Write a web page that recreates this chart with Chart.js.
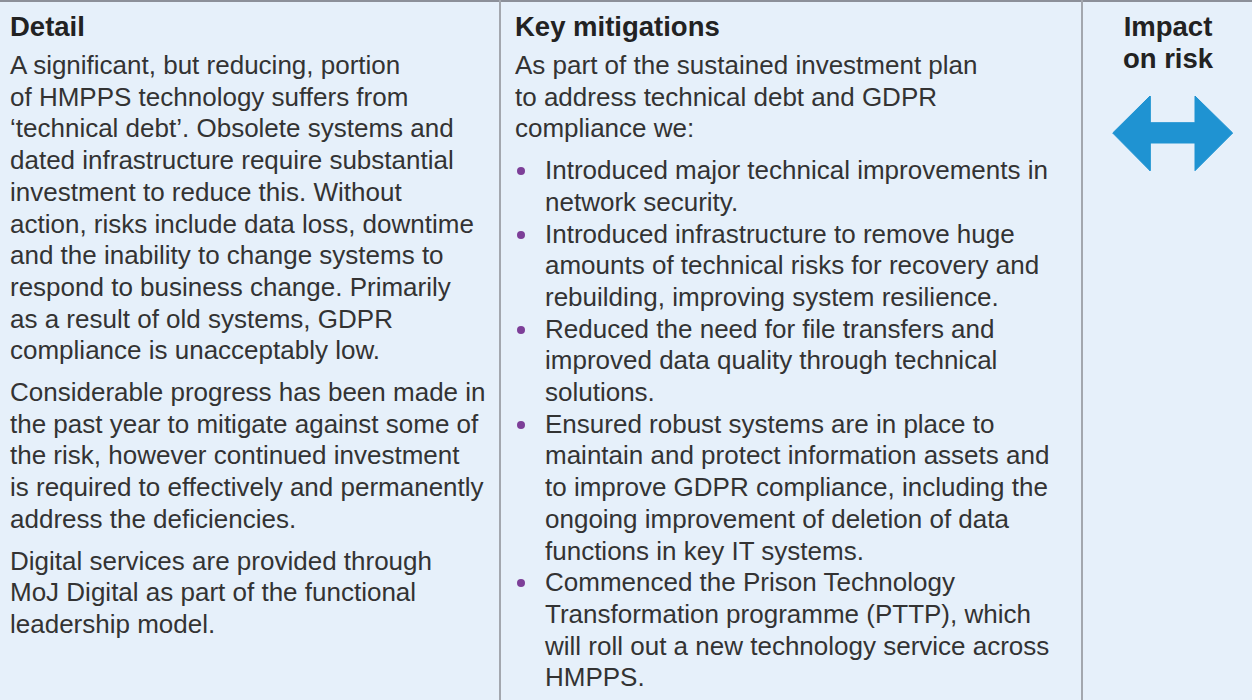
<!DOCTYPE html>
<html>
<head>
<meta charset="utf-8">
<script src="https://cdn.jsdelivr.net/npm/chart.js@4.4.0/dist/chart.umd.min.js"></script>
<style>
  html, body { margin:0; padding:0; }
  body { width:1252px; height:700px; background:#e6f0fa; position:relative; overflow:hidden;
         font-family:"Liberation Sans", Arial, sans-serif; color:#333; }
  .topline { position:absolute; left:0; top:0; width:1252px; height:2px; background:#8c9099; }
  .vline { position:absolute; top:0; width:2px; height:700px; background:#a3a7ae; }
  .col { position:absolute; top:11px; font-size:26px; line-height:31.7px; }
  .col h3 { margin:0 0 7px 0; font-size:27.5px; line-height:32px; font-weight:bold; color:#222; }
  .col p { margin:0 0 10px 0; white-space:nowrap; }
  .col ul { margin:0; padding:0; list-style:none; }
  .col li { position:relative; padding-left:30px; white-space:nowrap; }
  .col li::before { content:""; position:absolute; left:2px; top:12px; width:8px; height:8px;
                    border-radius:50%; background:#7d3f98; }
  #impact { position:absolute; left:1084px; width:168px; top:11px; text-align:center;
            font-size:27.5px; line-height:32px; font-weight:bold; color:#222; }
  #arrowBox { position:absolute; left:1100px; top:90px; width:145px; height:87px; }
</style>
</head>
<body>
<div class="topline"></div>
<div class="vline" style="left:499px"></div>
<div class="vline" style="left:1081px"></div>

<div class="col" style="left:10px">
  <h3>Detail</h3>
  <p>A significant, but reducing, portion<br>of HMPPS technology suffers from<br>‘technical debt’. Obsolete systems and<br>dated infrastructure require substantial<br>investment to reduce this. Without<br>action, risks include data loss, downtime<br>and the inability to change systems to<br>respond to business change. Primarily<br>as a result of old systems, GDPR<br>compliance is unacceptably low.</p>
  <p>Considerable progress has been made in<br>the past year to mitigate against some of<br>the risk, however continued investment<br>is required to effectively and permanently<br>address the deficiencies.</p>
  <p>Digital services are provided through<br>MoJ Digital as part of the functional<br>leadership model.</p>
</div>

<div class="col" style="left:515px">
  <h3>Key mitigations</h3>
  <p>As part of the sustained investment plan<br>to address technical debt and GDPR<br>compliance we:</p>
  <ul>
    <li>Introduced major technical improvements in<br>network security.</li>
    <li>Introduced infrastructure to remove huge<br>amounts of technical risks for recovery and<br>rebuilding, improving system resilience.</li>
    <li>Reduced the need for file transfers and<br>improved data quality through technical<br>solutions.</li>
    <li>Ensured robust systems are in place to<br>maintain and protect information assets and<br>to improve GDPR compliance, including the<br>ongoing improvement of deletion of data<br>functions in key IT systems.</li>
    <li>Commenced the Prison Technology<br>Transformation programme (PTTP), which<br>will roll out a new technology service across<br>HMPPS.</li>
  </ul>
</div>

<div id="impact">Impact<br>on risk</div>
<div id="arrowBox"><canvas id="arrow"></canvas></div>

<script>
// two-way arrow outline (impact unchanged), in page pixel units
const arrowX = [1112.7, 1150, 1150, 1195, 1195, 1232.7, 1195, 1195, 1150, 1150, 1112.7];
const arrowY = [133, 96, 122.7, 122.7, 96, 133, 170.7, 143, 143, 170.7, 133];

const arrowPoints = arrowX.map((x, i) => ({ x: x, y: arrowY[i] }));

let ctx = document.getElementById('arrow').getContext('2d');
new Chart(ctx, {
  type: 'scatter',
  data: {
    datasets: [{
      label: 'Impact on risk',
      data: arrowPoints,
      showLine: true,
      fill: 'shape',
      tension: 0,
      borderWidth: 1,
      borderColor: '#1f93d2',
      backgroundColor: '#1f93d2',
      pointRadius: 0
    }]
  },
  options: {
    responsive: true,
    maintainAspectRatio: false,
    animation: false,
    layout: { padding: 0 },
    plugins: { legend: { display: false }, tooltip: { enabled: false } },
    scales: {
      x: { type: 'linear', min: 1100, max: 1245, display: false },
      y: { type: 'linear', min: 90, max: 177, reverse: true, display: false }
    }
  }
});
</script>
</body>
</html>
